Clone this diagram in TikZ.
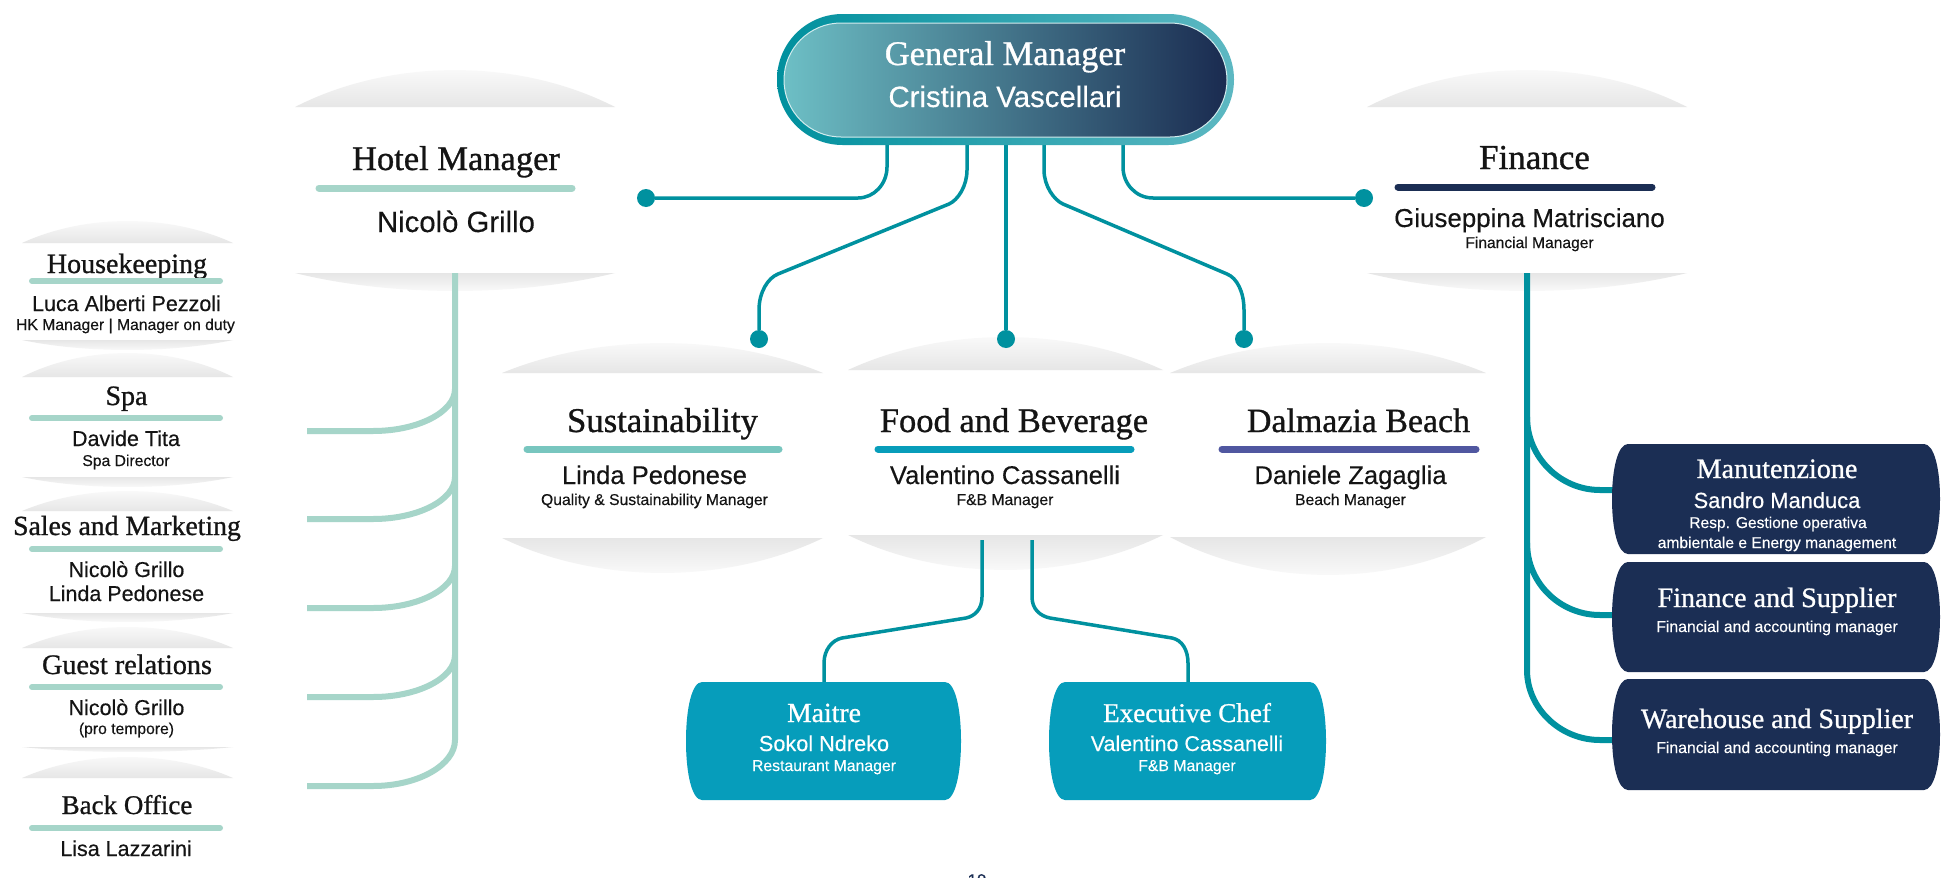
\documentclass[tikz,border=0pt]{standalone}
\usepackage{fontspec}
\setmainfont{Liberation Serif}
\setsansfont{Liberation Sans}
\newfontfamily\hdfont[FakeBold=0.9]{Liberation Serif}
\newfontfamily\nmfont[FakeBold=0.35]{Liberation Sans}
\definecolor{tealL}{HTML}{00919F}
\definecolor{mint}{HTML}{A6D5C9}
\definecolor{susbar}{HTML}{78C6BF}
\definecolor{fbbar}{HTML}{079DBA}
\definecolor{dalbar}{HTML}{5057A0}
\definecolor{navy}{HTML}{1B2E54}
\definecolor{boxblue}{HTML}{069DBB}
\definecolor{gmL}{HTML}{6DBFC5}
\definecolor{gmM}{HTML}{3F7C8F}
\definecolor{gmR}{HTML}{1A2B50}
\definecolor{rimL}{HTML}{00909E}
\definecolor{rimR}{HTML}{5DB8C2}
\definecolor{shd}{HTML}{E6E6E6}
\definecolor{ink}{HTML}{141414}
\newcommand{\topsh}[4]{\shade[top color=white, middle color=white!55!shd, bottom color=shd] (#1,#3) .. controls ({#1+0.3*(#2-#1)},{#3-1.33*#4}) and ({#2-0.3*(#2-#1)},{#3-1.33*#4}) .. (#2,#3) -- cycle;}
\newcommand{\botsh}[4]{\shade[top color=shd, middle color=white!55!shd, bottom color=white] (#1,#3) .. controls ({#1+0.3*(#2-#1)},{#3+1.33*#4}) and ({#2-0.3*(#2-#1)},{#3+1.33*#4}) .. (#2,#3) -- cycle;}
\newcommand{\barrelbox}[5]{%
  \fill[#5] ({#1+16},#2) -- ({#3-16},#2)
    .. controls ({#3-6},#2) and (#3,{#2+0.22*(#4-#2)}) .. (#3,{(#2+#4)/2})
    .. controls (#3,{#4-0.22*(#4-#2)}) and ({#3-6},#4) .. ({#3-16},#4)
    -- ({#1+16},#4)
    .. controls ({#1+6},#4) and (#1,{#4-0.22*(#4-#2)}) .. (#1,{(#2+#4)/2})
    .. controls (#1,{#2+0.22*(#4-#2)}) and ({#1+6},#2) .. ({#1+16},#2) -- cycle;}
\begin{document}
\begin{tikzpicture}[x=1pt,y=-1pt,
 ser/.style={font=\hdfont\fontsize{#1}{#1}\selectfont, anchor=base, inner sep=0pt, text=ink},
 san/.style={font=\nmfont\fontsize{#1}{#1}\selectfont, anchor=base, inner sep=0pt, text=ink},
 bar/.style={line width=7pt, line cap=round},
 conn/.style={draw=tealL, line width=3.5pt},
 mintline/.style={draw=mint, line width=6pt},
 tline/.style={draw=tealL, line width=6pt},
 dot/.style={circle, fill=tealL, minimum size=18pt, inner sep=0pt},
 gmrim/.style={rectangle, rounded corners=65.5pt, minimum width=457pt, minimum height=131pt, left color=rimL, right color=rimR, inner sep=0pt},
 gmcore/.style={rectangle, rounded corners=57pt, minimum width=443pt, minimum height=114pt, left color=gmL, middle color=gmM, right color=gmR, draw=white!70!gmL, line width=1pt, inner sep=0pt},
]
\useasboundingbox (0,0) rectangle (1941,878);
\fill[white] (0,0) rectangle (1941,878);

% ---------- card shadows
\topsh{295}{615}{107}{37}\botsh{295}{615}{273}{18}
\topsh{1367}{1687}{107}{37}\botsh{1367}{1687}{273}{18}
\topsh{502}{823}{373}{30}\botsh{502}{823}{538}{35}
\topsh{848}{1163}{370}{33}\botsh{848}{1163}{535}{35}
\topsh{1170}{1486}{373}{30}\botsh{1170}{1486}{537}{38}
\topsh{22}{233}{243}{22}\botsh{22}{233}{340}{10}
\topsh{22}{233}{377}{24}\botsh{22}{233}{477}{10}
\topsh{22}{233}{511}{20}\botsh{22}{233}{613}{9}
\topsh{22}{233}{648}{21}\botsh{22}{233}{747}{5}
\topsh{22}{233}{778}{21}

% ---------- coordinates
\coordinate (g1) at (887,140);
\coordinate (g2) at (967,140);
\coordinate (g3) at (1006,140);
\coordinate (g4) at (1044,140);
\coordinate (g5) at (1123,140);
\coordinate (hmB) at (455,273);
\coordinate (fiB) at (1527,273);
\coordinate (fbL) at (982,540);
\coordinate (fbR) at (1032,540);
\coordinate (maiTop) at (824,684);
\coordinate (exeTop) at (1188,684);
\coordinate (b1) at (307,431);
\coordinate (b2) at (307,519);
\coordinate (b3) at (307,608);
\coordinate (b4) at (307,697);
\coordinate (b5) at (307,786);
\coordinate (r1) at (1616,490);
\coordinate (r2) at (1616,615);
\coordinate (r3) at (1616,740);

% ---------- dots
\node[dot] (dHM) at (646,198) {};
\node[dot] (dSu) at (759,339) {};
\node[dot] (dFB) at (1006,339) {};
\node[dot] (dDB) at (1244,339) {};
\node[dot] (dFi) at (1364,198) {};

% ---------- connectors from the General Manager
\draw[conn] (g1) -- (887,167) .. controls (887,184) and (874,198) .. (858,198) -- (dHM);
\draw[conn] (g2) -- (967,170) .. controls (967,186) and (958,200) .. (949,204) -- (778,274) .. controls (768,278) and (759,292) .. (759,310) -- (dSu);
\draw[conn] (g3) -- (dFB);
\draw[conn] (g4) -- (1044,170) .. controls (1044,186) and (1054,200) .. (1063,204) -- (1227,274) .. controls (1237,278) and (1244,292) .. (1244,310) -- (dDB);
\draw[conn] (g5) -- (1123,167) .. controls (1123,184) and (1136,198) .. (1153,198) -- (dFi);

% ---------- General Manager
\node[gmrim] (gmo) at (1005.5,79.5) {};
\node[gmcore] (gm) at (1005.5,80) {};
\node[ser=34.5, text=white] (gmT) at (1005,65) {General Manager};
\node[san=29.4, text=white] (gmN) at (1005,107) {Cristina Vascellari};

% ---------- Hotel Manager
\node[ser=34.5] (hmT) at (456,170) {Hotel Manager};
\draw[bar, mint] (319,188) -- (572,188);
\node[san=29.3] (hmN) at (456,232) {Nicolò Grillo};

% ---------- Finance
\node[ser=35] (fiT) at (1534.5,169) {Finance};
\draw[bar, navy] (1398,187) -- (1652,187);
\node[san=25.9] (fiN) at (1529.5,227) {Giuseppina Matrisciano};
\node[san=15.6] (fiR) at (1529.5,248) {Financial Manager};

% ---------- middle row
\node[ser=34.7] (suT) at (662.5,432) {Sustainability};
\draw[bar, susbar] (527,449) -- (779,449);
\node[san=25.6] (suN) at (654.5,484) {Linda Pedonese};
\node[san=15.7] (suR) at (654.5,505) {Quality \& Sustainability Manager};

\node[ser=34.5] (fbT) at (1014,432) {Food and Beverage};
\draw[bar, fbbar] (878,449) -- (1131,449);
\node[san=25.6] (fbN) at (1005,484) {Valentino Cassanelli};
\node[san=15.7] (fbR2) at (1005,505) {F\&B Manager};

\node[ser=33.9] (dbT) at (1358.5,432) {Dalmazia Beach};
\draw[bar, dalbar] (1222,449) -- (1476,449);
\node[san=25.6] (dbN) at (1350.5,484) {Daniele Zagaglia};
\node[san=15.7] (dbR) at (1350.5,505) {Beach Manager};

% ---------- left column
\draw[mintline] (hmB) -- (455,740) .. controls (455,765) and (418,786) .. (373,786) -- (b5);
\foreach \yy/\nm in {431/b1,519/b2,608/b3,697/b4}{
  \draw[mintline] (455,{\yy-42}) .. controls (455,{\yy-19}) and (418,\yy) .. (373,\yy) -- (\nm);
}
\node[ser=28] (hkT) at (127,273) {Housekeeping};
\draw[bar, mint, line width=6pt] (32,281) -- (220,281);
\node[san=21.5] (hkN) at (126.5,311) {Luca Alberti Pezzoli};
\node[san=15.7] (hkR) at (125.5,330) {HK Manager | Manager on duty};

\node[ser=28] (spT) at (126.5,405) {Spa};
\draw[bar, mint, line width=6pt] (32,418) -- (220,418);
\node[san=21.5] (spN) at (126,446) {Davide Tita};
\node[san=15.7] (spR) at (126,466) {Spa Director};

\node[ser=27.7] (smT) at (127,535) {Sales and Marketing};
\draw[bar, mint, line width=6pt] (32,549) -- (220,549);
\node[san=21.5] (smN) at (126.5,577) {Nicolò Grillo};
\node[san=21.5] (smN2) at (126.5,601) {Linda Pedonese};

\node[ser=28.2] (grT) at (127,674) {Guest relations};
\draw[bar, mint, line width=6pt] (32,687) -- (220,687);
\node[san=21.5] (grN) at (126.5,715) {Nicolò Grillo};
\node[san=15.7] (grR) at (126.5,734) {(pro tempore)};

\node[ser=27] (boT) at (127,814) {Back Office};
\draw[bar, mint, line width=6pt] (32,828) -- (220,828);
\node[san=21.5] (boN) at (126,856) {Lisa Lazzarini};

% ---------- F&B sub-units
\draw[conn] (fbL) -- (982,597) .. controls (982,609) and (975,616) .. (966,618) -- (842,638) .. controls (832,640) and (824,650) .. (824,663) -- (maiTop);
\draw[conn] (fbR) -- (1032,597) .. controls (1032,609) and (1040,616) .. (1050,618) -- (1172,638) .. controls (1182,640) and (1188,650) .. (1188,663) -- (exeTop);
\barrelbox{686}{682}{961}{800}{boxblue}
\barrelbox{1049}{682}{1326}{800}{boxblue}
\node[ser=27.7, text=white] (maT) at (824,722) {Maitre};
\node[san=21.7, text=white] (maN) at (824,751) {Sokol Ndreko};
\node[san=15.8, text=white] (maR) at (824,771) {Restaurant Manager};
\node[ser=27.1, text=white] (exT) at (1187,722) {Executive Chef};
\node[san=21.4, text=white] (exN) at (1187,751) {Valentino Cassanelli};
\node[san=15.8, text=white] (exR) at (1187,771) {F\&B Manager};

% ---------- Finance sub-units
\draw[tline] (fiB) -- (1527,670) .. controls (1527,708) and (1560,740) .. (1600,740) -- (r3);
\draw[tline] (1527,417) .. controls (1527,457) and (1560,490) .. (1600,490) -- (r1);
\draw[tline] (1527,543) .. controls (1527,583) and (1560,615) .. (1600,615) -- (r2);
\barrelbox{1612}{444}{1940}{554}{navy}
\barrelbox{1612}{562}{1940}{672}{navy}
\barrelbox{1612}{679}{1940}{790}{navy}
\node[ser=28.1, text=white] (mnT) at (1777,478) {Manutenzione};
\node[san=21.9, text=white] (mnN) at (1777,508) {Sandro Manduca};
\node[san=15.6, text=white] (mnR) at (1778,528) {Resp. Gestione operativa};
\node[san=15.6, text=white] (mnR2) at (1777,548) {ambientale e Energy management};
\node[ser=28.1, text=white] (fsT) at (1777,607) {Finance and Supplier};
\node[san=15.8, text=white] (fsR) at (1777,632) {Financial and accounting manager};
\node[ser=27.9, text=white] (whT) at (1777,728) {Warehouse and Supplier};
\node[san=15.8, text=white] (whR) at (1777,753) {Financial and accounting manager};

% ---------- page number (cut by the page edge, as in the reference)
\node[san=17, text=navy] (pg) at (977,886) {19};
\end{tikzpicture}
\end{document}
